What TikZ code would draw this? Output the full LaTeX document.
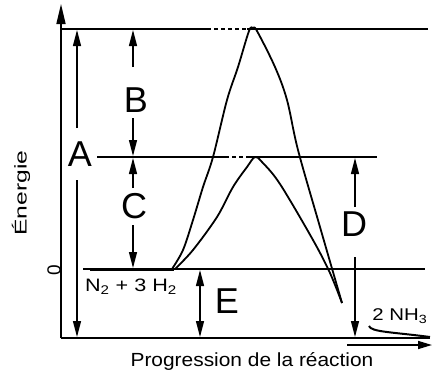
\documentclass[tikz,border=0pt]{standalone}
\usepackage{fontspec}
\setmainfont{Liberation Sans}
\usetikzlibrary{arrows.meta}
\begin{document}
\begin{tikzpicture}[x=1pt,y=-1pt,
  lvl/.style={line width=1.3pt},
  axisline/.style={line width=1.6pt},
  dim/.style={line width=1.3pt},
  tip/.style={-{Triangle[length=16pt,width=8pt]}},
  biglab/.style={font=\fontsize{36}{36}\selectfont, inner sep=0pt},
  curve/.style={line width=1.8pt, line join=round},
]
\useasboundingbox (0,0) rectangle (432,375);
% axes
\coordinate (O) at (61,338);
\coordinate (Ytop) at (61,4);
\coordinate (Xend) at (430,338);
\draw[axisline, -{Triangle[length=20pt,width=9pt]}] (O) -- (Ytop);
\draw[axisline] (O) -- (Xend);
\coordinate (Xa1) at (347,345);
\coordinate (Xa2) at (432,345);
\draw[axisline, -{Triangle[length=14pt,width=8pt]}] (Xa1) -- (Xa2);
% levels
\coordinate (T1) at (62,29); \coordinate (T2) at (207,29);
\coordinate (T3) at (247,29); \coordinate (T4) at (428,29);
\draw[lvl] (T1) -- (T2);
\draw[lvl, dash pattern=on 4pt off 3pt] (T2) -- (T3);
\draw[lvl] (T3) -- (T4);
\coordinate (M1) at (97,157); \coordinate (M2) at (225,157);
\coordinate (M3) at (250,157); \coordinate (M4) at (377,157);
\draw[lvl] (M1) -- (M2);
\draw[lvl, dash pattern=on 4pt off 3pt] (M2) -- (M3);
\draw[lvl] (M3) -- (M4);
\coordinate (Z1) at (83,269); \coordinate (Z2) at (425,269);
\coordinate (R1) at (90,269); \coordinate (R2) at (174,269);
\draw[lvl] (Z1) -- (Z2);
\draw[line width=3pt] (R1) -- (R2);
% curves
\draw[curve] plot[smooth, tension=0.55] coordinates {(172,269) (183,250) (193,220) (203,187) (213,157) (227,100) (238,67) (249,31) (253,28) (257,31) (275,67) (287,100) (298,150) (320,227) (342,303)};
\draw[curve] plot[smooth, tension=0.55] coordinates {(175,269) (193,250) (217,217) (233,187) (247,167) (255,157) (262,162) (280,184) (313,240) (330,273) (342,303)};
% products
\coordinate (P1) at (369,326); \coordinate (P2) at (430,337);
\draw[line width=2pt] (P1) .. controls (371,332) and (392,332) .. (P2);
% dimension arrows
\node[biglab] (A) at (80,154) {A};
\coordinate (A1) at (77,128); \coordinate (A2) at (77,30);
\coordinate (A3) at (77,180); \coordinate (A4) at (77,337);
\draw[dim,tip] (A1) -- (A2);
\draw[dim,tip] (A3) -- (A4);
\node[biglab] (B) at (136,100) {B};
\coordinate (B1) at (133,67); \coordinate (B2) at (133,30);
\coordinate (B3) at (133,118); \coordinate (B4) at (133,156);
\draw[dim,tip] (B1) -- (B2);
\draw[dim,tip] (B3) -- (B4);
\node[biglab] (C) at (134,206) {C};
\coordinate (C1) at (133,188); \coordinate (C2) at (133,158);
\coordinate (C3) at (133,225); \coordinate (C4) at (133,268);
\draw[dim,tip] (C1) -- (C2);
\draw[dim,tip] (C3) -- (C4);
\node[biglab] (D) at (354,224) {D};
\coordinate (D1) at (355,207); \coordinate (D2) at (355,158);
\coordinate (D3) at (355,257); \coordinate (D4) at (355,337);
\draw[dim,tip] (D1) -- (D2);
\draw[dim,tip] (D3) -- (D4);
\node[biglab] (E) at (227,301) {E};
\coordinate (E1) at (200,270); \coordinate (E2) at (200,337);
\draw[dim,{Triangle[length=16pt,width=8pt]}-{Triangle[length=16pt,width=8pt]}] (E1) -- (E2);
% texts
\node[rotate=90, font=\fontsize{17}{17}\selectfont] (en) at (21,193) {\scalebox{1.45}[1]{Énergie}};
\node[rotate=90, font=\fontsize{19}{19}\selectfont, inner sep=0pt] (zero) at (54,270) {0};
\node[font=\fontsize{18}{18}\selectfont] (reac) at (131,287) {\scalebox{1.2}[1]{N\textsubscript{2} + 3 H\textsubscript{2}}};
\node[font=\fontsize{17}{17}\selectfont] (prod) at (400,316) {\scalebox{1.2}[1]{2 NH\textsubscript{3}}};
\node[font=\fontsize{19}{19}\selectfont] (xl) at (252,361) {\scalebox{1.1}[1]{Progression de la réaction}};
\end{tikzpicture}
\end{document}
